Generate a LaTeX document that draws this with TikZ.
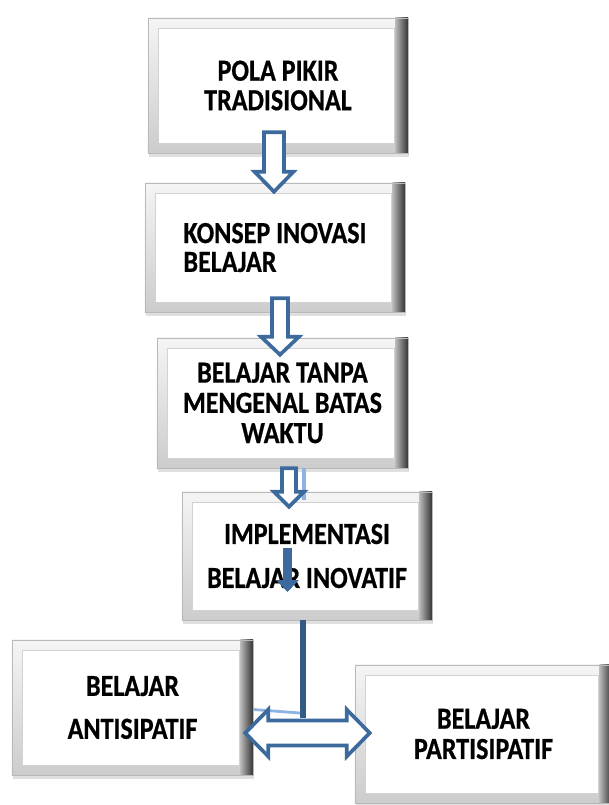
\documentclass[tikz,border=0pt]{standalone}
\usepackage{fontspec}
\setmainfont{Carlito}
\newfontfamily\boxface{Carlito}[FakeStretch=0.85, BoldFeatures={FakeBold=0.6}]
\usepackage{tikz}
\usetikzlibrary{arrows.meta, calc, shadows}
\definecolor{arrowblue}{HTML}{3C6A9C}
\definecolor{lightblue}{HTML}{8DB3E2}
\newcommand{\boxfont}{\boxface\fontsize{21.8pt}{19.5pt}\selectfont\bfseries}
\tikzset{
  bevelbox/.style={rectangle, inner sep=0pt, align=center, font=\boxfont,
                   top color=gray!8, bottom color=gray!40, draw=gray!55, thin,
                   drop shadow={shadow xshift=1pt, shadow yshift=-3pt, opacity=0.25},
                   path picture={
                     \fill[white, draw=gray!35] ([shift={(7pt,7pt)}]path picture bounding box.south west)
                       rectangle ([shift={(-10pt,-7pt)}]path picture bounding box.north east);
                     \shade[left color=gray!55, right color=black!80]
                       ([xshift=-9pt]path picture bounding box.south east)
                       rectangle (path picture bounding box.north east);
                   }},
  hollowarr/.style={draw=arrowblue, fill=white, line width=2.6pt, line join=miter},
  solidarr/.style={-{Triangle[length=8.5pt, width=15.6pt]}, line width=6.4pt, arrowblue},
  stem/.style={line width=4pt, arrowblue!85!black},
  lightline/.style={line width=2pt, lightblue},
}
% block arrow from one box down into the next
\newcommand{\hollowdrop}[8]{%
  \coordinate (ht) at ($(#1.south)+(0,#4)$);
  \coordinate (hp) at ($(#2.north)+(0,#5)$);
  \coordinate (hn) at ($(hp)+(0,-#8)$);
  \draw[hollowarr] (#3-#6,0 |- ht) -- (#3+#6,0 |- ht) -- (#3+#6,0 |- hn) -- (#3+#7,0 |- hn)
    -- (#3,0 |- hp) -- (#3-#7,0 |- hn) -- (#3-#6,0 |- hn) -- cycle;
}

\begin{document}
\begin{tikzpicture}[x=0.025cm, y=-0.025cm]
  \useasboundingbox (0,0) rectangle (609,805);

  % main chain
  \node[bevelbox, minimum width=6.5cm, minimum height=3.375cm] (pola) at (278,85.5)
    {POLA PIKIR\\[1.5pt]TRADISIONAL};
  \node[bevelbox, minimum width=6.5cm, minimum height=3.225cm, align=left] (konsep) at (275,247.5)
    {KONSEP INOVASI\\[1pt]BELAJAR};
  \node[bevelbox, minimum width=6.275cm, minimum height=3.25cm] (waktu) at (282.5,403)
    {BELAJAR TANPA\\[2pt]MENGENAL BATAS\\[2pt]WAKTU};
  \node[bevelbox, minimum width=6.25cm, minimum height=3.2cm] (impl) at (307,556)
    {IMPLEMENTASI\\[11.8pt]BELAJAR INOVATIF};

  % two outcomes
  \node[bevelbox, minimum width=6.025cm, minimum height=3.375cm] (anti) at (132.5,707.5)
    {BELAJAR\\[11pt]ANTISIPATIF};
  \node[bevelbox, minimum width=6.425cm, minimum height=3.45cm] (parti) at (483.5,734)
    {BELAJAR\\[2pt]PARTISIPATIF};

  % hollow arrows
  \hollowdrop{pola}{konsep}{274}{-21}{9}{10}{19.5}{20}
  \hollowdrop{konsep}{waktu}{280}{-14}{17}{8}{19}{18}
  \draw[lightline, line width=3pt] (304,0 |- waktu.south) -- ++(0,32);
  \hollowdrop{waktu}{impl}{289}{0}{15}{7}{15}{15}

  % arrow inside the last box and the stem below it
  \draw[solidarr] ($(impl.center)+(-19.5,-8)$) -- ($(impl.center)+(-19.5,36)$);
  \coordinate (tee) at (303,718);
  \draw[stem] (tee |- impl.south) -- (tee);
  \draw[lightline] ($(tee)+(-3,-5)$) -- ($(anti.east)+(0,2)$);

  % double arrow between the outcomes
  \coordinate (lt) at ($(anti.east)+(-8,25.5)$);
  \coordinate (rt) at ($(parti.west |- lt)+(15,0)$);
  \draw[hollowarr] (lt) -- ($(lt)+(23,-23.5)$) -- ($(lt)+(23,-12.5)$) -- ($(rt)+(-23,-12.5)$)
    -- ($(rt)+(-23,-23.5)$) -- (rt) -- ($(rt)+(-23,23.5)$) -- ($(rt)+(-23,12.5)$)
    -- ($(lt)+(23,12.5)$) -- ($(lt)+(23,23.5)$) -- cycle;
\end{tikzpicture}
\end{document}
